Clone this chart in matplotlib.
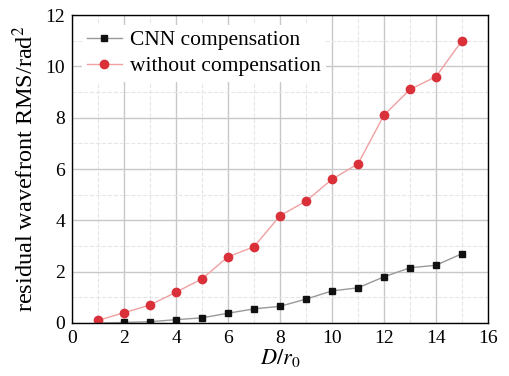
import matplotlib.pyplot as plt
import numpy as np

plt.rcParams['font.family'] = ['Liberation Serif', 'DejaVu Serif']
plt.rcParams['mathtext.fontset'] = 'stix'

d_r0 = [1, 2, 3, 4, 5, 6, 7, 8, 9, 10, 11, 12, 13, 14, 15]
cnn_comp = [0.0, 0.02, 0.05, 0.13, 0.2, 0.38, 0.55, 0.65, 0.93, 1.25, 1.37, 1.8, 2.15, 2.25, 2.7]
no_comp = [0.1, 0.4, 0.7, 1.2, 1.72, 2.58, 2.97, 4.18, 4.75, 5.6, 6.2, 8.1, 9.1, 9.6, 11.0]

fig = plt.figure(figsize=(5.09, 3.76), dpi=100)
ax = fig.add_axes([0.1415, 0.141, 0.8172, 0.819])

ax.plot(d_r0, cnn_comp, color='#999999', lw=1, marker='s', ms=5,
        mfc='#111111', mec='#111111', label='CNN compensation')
ax.plot(d_r0, no_comp, color='#f0a0a0', lw=1, marker='o', ms=6,
        mfc='#d9303a', mec='#d9303a', label='without compensation')

ax.set_xlim(0, 16)
ax.set_ylim(0, 12)
ax.set_xticks(np.arange(0, 17, 2))
ax.set_yticks(np.arange(0, 13, 2))
ax.set_xticks(np.arange(1, 16, 2), minor=True)
ax.set_yticks(np.arange(1, 12, 2), minor=True)
ax.grid(True, which='major', color='#c8c8c8', lw=1)
ax.grid(True, which='minor', color='#e6e6e6', lw=0.8, ls='--')
ax.tick_params(which='both', length=0, labelsize=14, pad=5)
ax.set_axisbelow(True)
for s in ax.spines.values():
    s.set_color('black')
    s.set_linewidth(1)

ax.set_xlabel('$D/r_0$', fontsize=16, labelpad=0)
ax.set_ylabel('residual wavefront RMS/rad$^2$', fontsize=17.5, labelpad=5)

leg = ax.legend(loc='upper left', fontsize=15.5, frameon=True, framealpha=1,
                edgecolor='white', borderpad=0.25, handlelength=1.6,
                handletextpad=0.4, labelspacing=0.28, borderaxespad=0.45)
leg.get_frame().set_linewidth(0)

fig.savefig('out.png', dpi=100)
